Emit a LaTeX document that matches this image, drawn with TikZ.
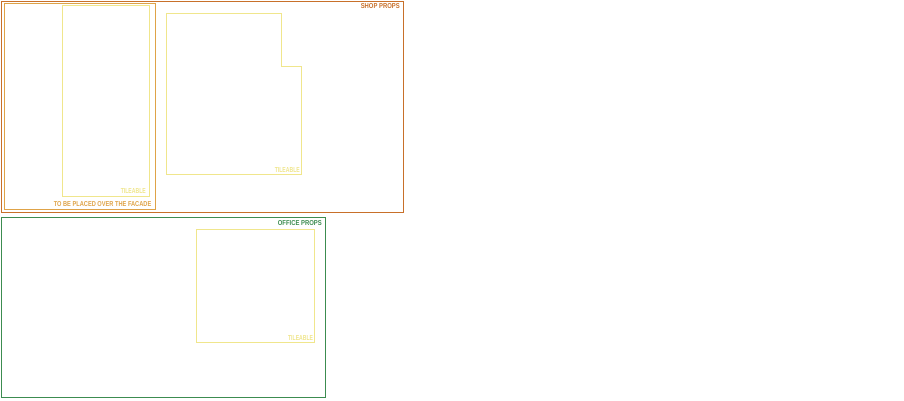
\documentclass[tikz,border=0pt]{standalone}
\usepackage{fontspec}
\setmainfont{Liberation Sans}
\definecolor{shoporange}{HTML}{C8702A}
\definecolor{facadeorange}{HTML}{DFA348}
\definecolor{tileyellow}{HTML}{F0E68C}
\definecolor{officegreen}{HTML}{3C8C50}
\tikzset{
  frame/.style={line width=1pt},
  lbl/.style={inner sep=0pt, anchor=south east},
}
\newcommand{\lbltext}[2]{\resizebox{#1}{5pt}{\bfseries #2}}
\begin{document}
\begin{tikzpicture}[x=1pt,y=-1pt]
\useasboundingbox[fill=white] (0,0) rectangle (904,400);
% shop props
\draw[frame,shoporange] (1.5,1.5) rectangle (403.5,212.5);
\node[lbl,text=shoporange] (shoplbl) at (400,8.8) {\lbltext{39pt}{SHOP PROPS}};
% facade box
\draw[frame,facadeorange] (4.5,3.5) rectangle (155.5,209.5);
\node[lbl,text=facadeorange] (facadelbl) at (151.5,206.8) {\lbltext{97.5pt}{TO BE PLACED OVER THE FACADE}};
% tileable 1
\draw[frame,tileyellow] (62.5,5.5) rectangle (149.5,196.5);
\node[lbl,text=tileyellow] (tile1) at (146,193.5) {\lbltext{25pt}{TILEABLE}};
% tileable 2 (L shape)
\draw[frame,tileyellow] (166.5,13.5) -- (281.5,13.5) -- (281.5,66.5) -- (301.5,66.5) -- (301.5,174.5) -- (166.5,174.5) -- cycle;
\node[lbl,text=tileyellow] (tile2) at (300,172.8) {\lbltext{25pt}{TILEABLE}};
% office props
\draw[frame,officegreen] (1.5,217.5) rectangle (325.5,397.5);
\node[lbl,text=officegreen] (officelbl) at (322,225.8) {\lbltext{44pt}{OFFICE PROPS}};
% tileable 3
\draw[frame,tileyellow] (196.5,229.5) rectangle (314.5,342.5);
\node[lbl,text=tileyellow] (tile3) at (313.3,340.8) {\lbltext{25pt}{TILEABLE}};
\end{tikzpicture}
\end{document}
